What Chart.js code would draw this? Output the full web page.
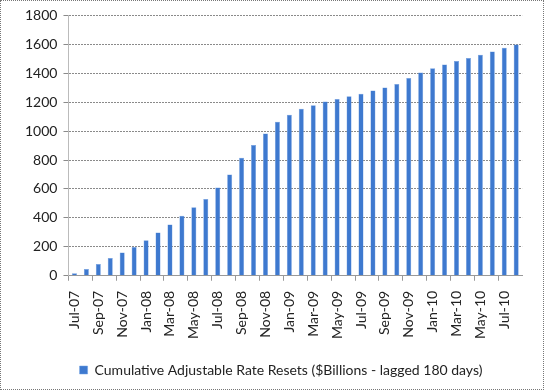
<!DOCTYPE html>
<html>
<head>
<meta charset="utf-8">
<script src="https://cdn.jsdelivr.net/npm/chart.js@4"></script>
<style>
  body { margin: 0; background: #fff; }
  #wrap { width: 542px; height: 388px; border: 1px dotted #777; position: relative; }
</style>
</head>
<body>
<div id="wrap"><canvas id="resetsChart" width="542" height="388"></canvas></div>
<script>
// Months Jul-07 .. Aug-10
const months = ['Jul-07', 'Aug-07', 'Sep-07', 'Oct-07', 'Nov-07', 'Dec-07',
    'Jan-08', 'Feb-08', 'Mar-08', 'Apr-08', 'May-08', 'Jun-08', 'Jul-08', 'Aug-08', 'Sep-08', 'Oct-08', 'Nov-08', 'Dec-08',
    'Jan-09', 'Feb-09', 'Mar-09', 'Apr-09', 'May-09', 'Jun-09', 'Jul-09', 'Aug-09', 'Sep-09', 'Oct-09', 'Nov-09', 'Dec-09',
    'Jan-10', 'Feb-10', 'Mar-10', 'Apr-10', 'May-10', 'Jun-10', 'Jul-10', 'Aug-10'];

const resets = [18, 46, 81, 122, 160, 199,
    246, 299, 355, 415, 473, 531, 610, 700, 816, 904, 983, 1064,
    1113, 1155, 1178, 1204, 1222, 1241, 1259, 1280, 1301, 1326, 1368, 1405,
    1435, 1461, 1484, 1505, 1528, 1551, 1577, 1598];

const yTicks = [0, 200, 400, 600, 800, 1000, 1200, 1400, 1600, 1800];

const barColor = '#3e79cf';
const fontFamily = 'Lato, "Open Sans", sans-serif';

new Chart(document.getElementById('resetsChart'), {
    type: 'bar',
    data: {
        labels: months,
        datasets: [{
            label: 'Cumulative Adjustable Rate Resets ($Billions - lagged 180 days)',
            data: resets,
            backgroundColor: barColor,
            borderColor: '#6f9ee0',
            borderWidth: 0.5,
            categoryPercentage: 1,
            barPercentage: 0.42
        }]
    },
    options: {
        responsive: false,
        animation: false,
        layout: { padding: { top: 10, right: 0, left: 18, bottom: 2 } },
        plugins: {
            legend: {
                position: 'bottom',
                labels: {
                    boxWidth: 8,
                    boxHeight: 8,
                    color: '#222',
                    padding: 14,
                    font: { family: fontFamily, size: 14 }
                }
            },
            tooltip: { enabled: false }
        },
        scales: {
            x: {
                offset: true,
                grid: {
                    offset: true,
                    drawOnChartArea: false,
                    tickLength: 5,
                    color: function(ctx) {
                        return ctx.index % 2 === 0 ? '#999' : 'rgba(0,0,0,0)';
                    }
                },
                border: { color: '#999' },
                ticks: {
                    autoSkip: false,
                    maxRotation: 90,
                    minRotation: 90,
                    color: '#222',
                    padding: 10,
                    font: { family: fontFamily, size: 14 },
                    callback: function(value, index) {
                        return index % 2 === 0 ? months[index] : '';
                    }
                }
            },
            y: {
                min: 0,
                max: 1800,
                afterBuildTicks: function(axis) {
                    axis.ticks = yTicks.map(v => ({ value: v }));
                },
                grid: {
                    color: '#8a8a8a',
                    tickLength: 5
                },
                border: { color: '#bbb', dash: [2, 1] },
                ticks: {
                    color: '#222',
                    padding: 6,
                    font: { family: fontFamily, size: 14 },
                    callback: function(value) {
                        return String(value);
                    }
                }
            }
        }
    }
});
</script>
</body>
</html>
